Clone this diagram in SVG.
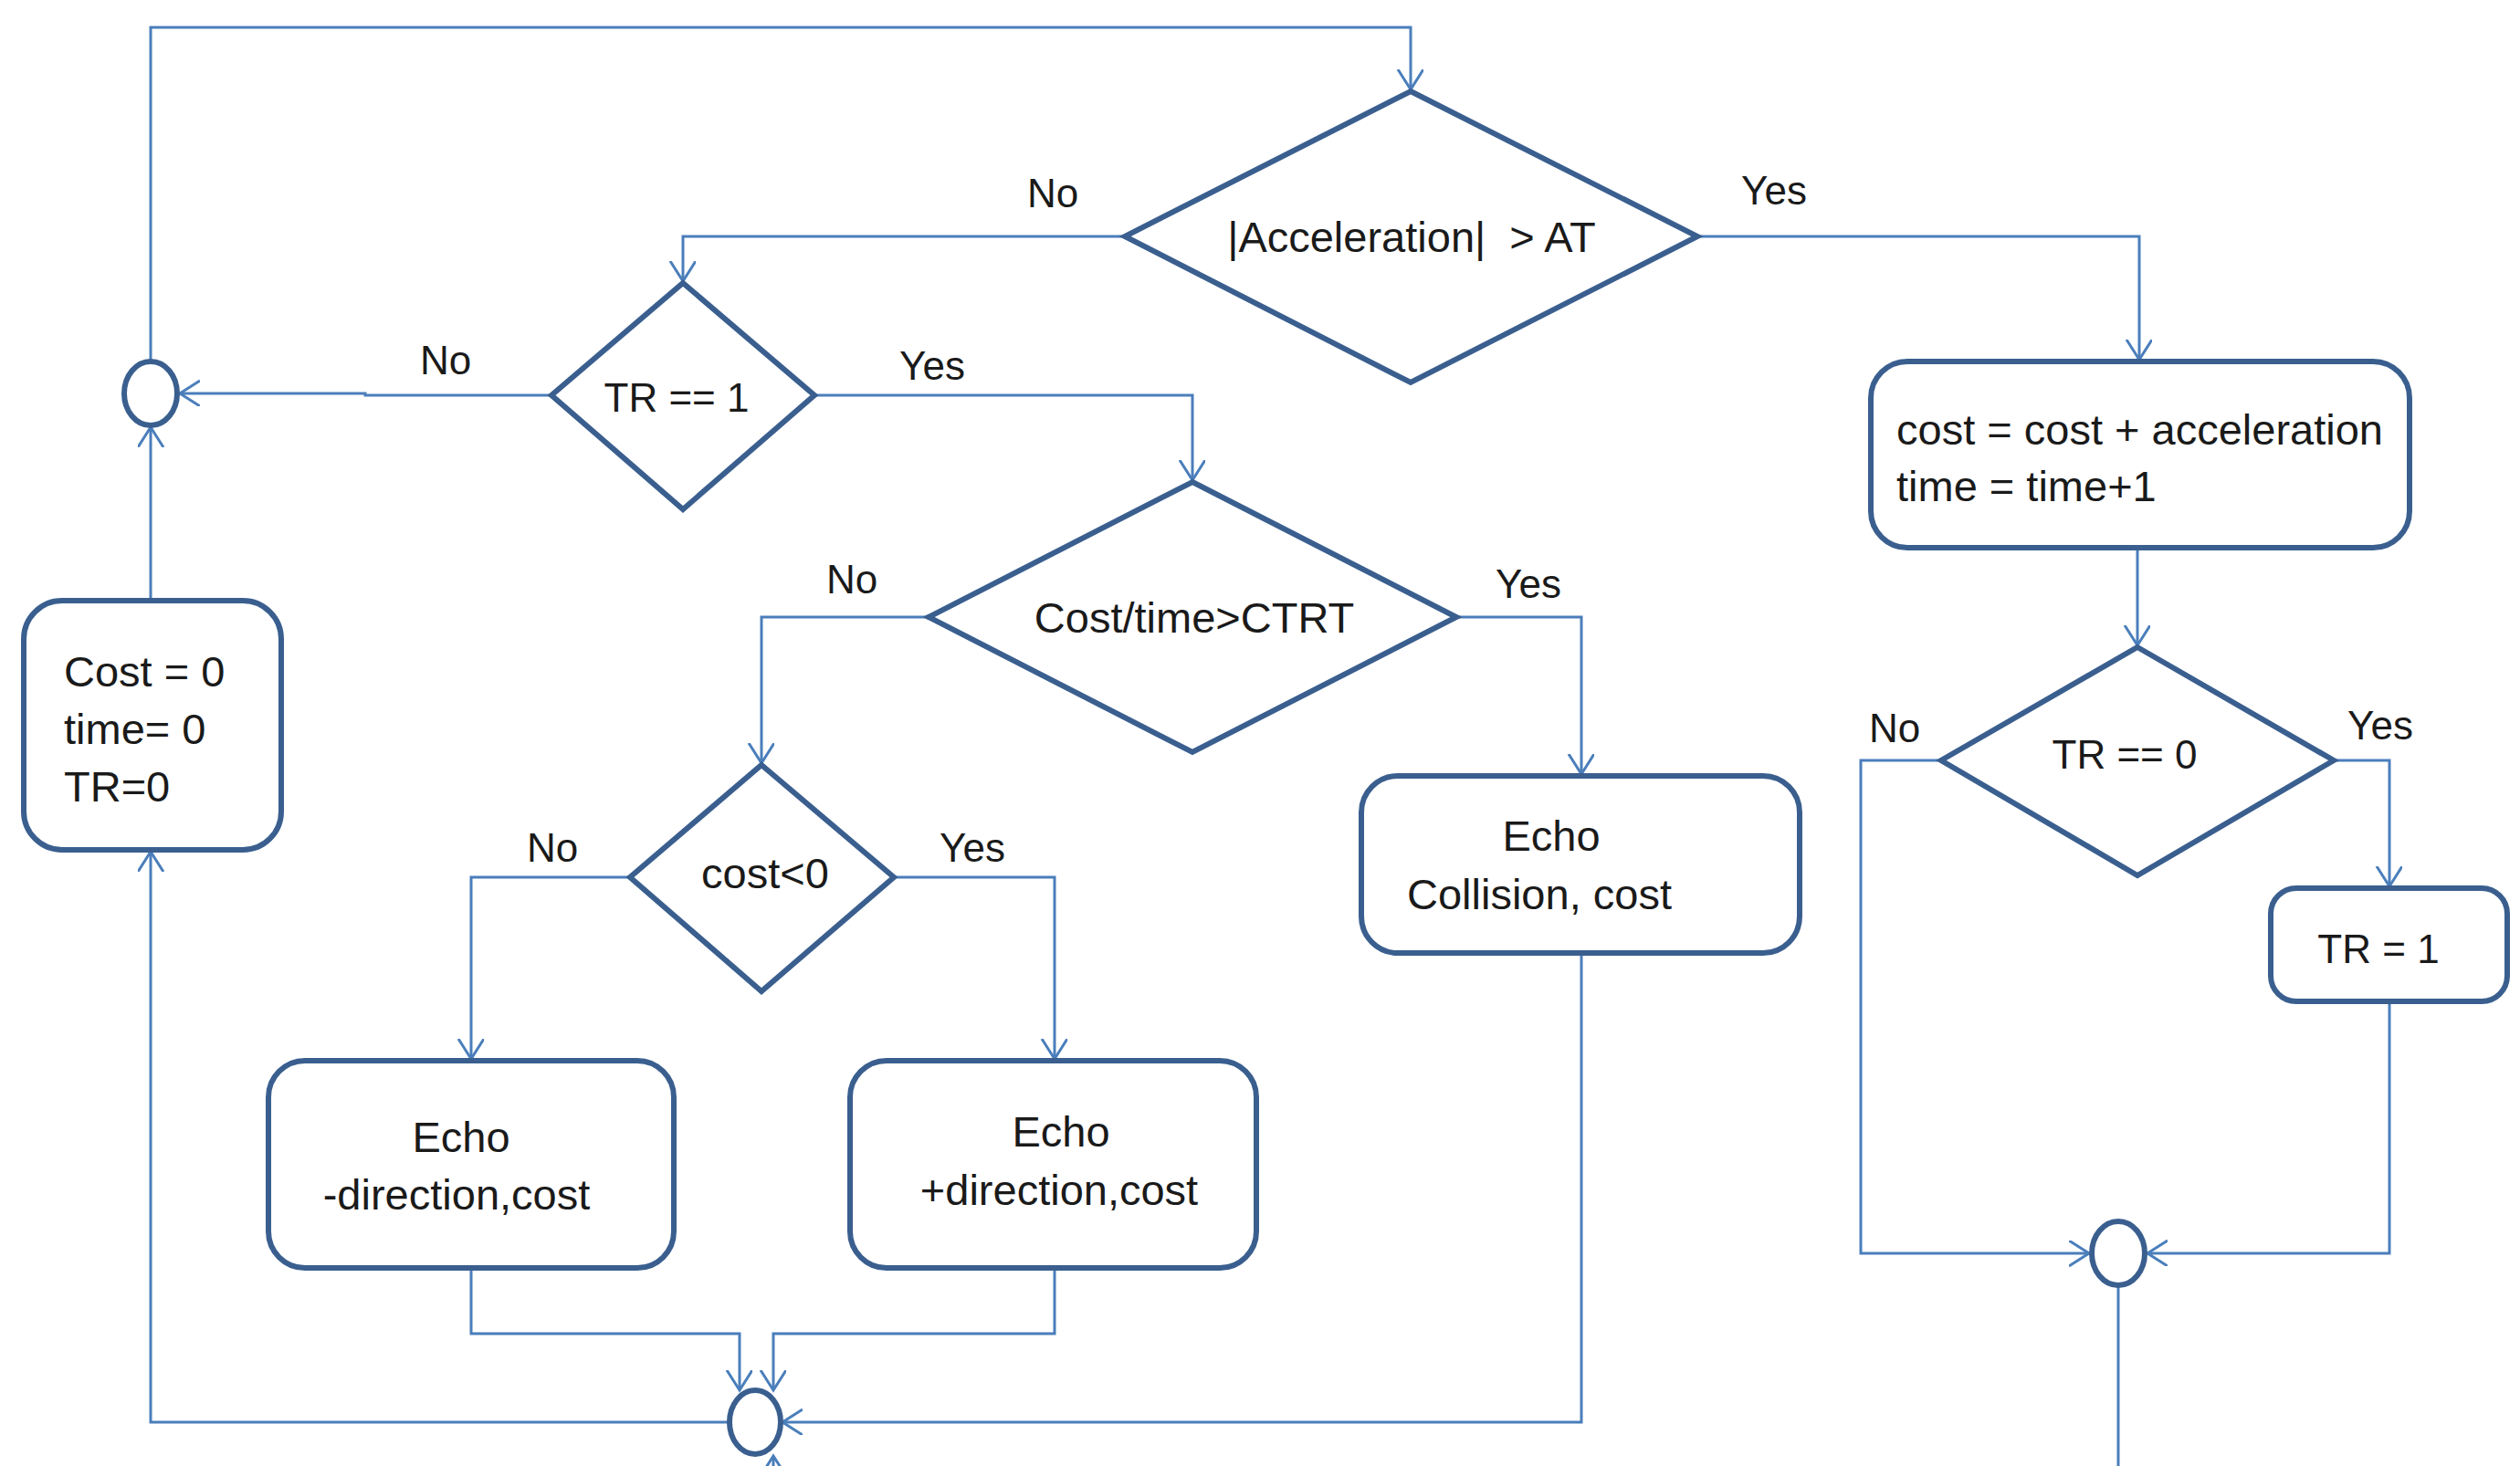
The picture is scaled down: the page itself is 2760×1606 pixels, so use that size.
<svg xmlns="http://www.w3.org/2000/svg" width="2760" height="1606" viewBox="0 0 2760 1606">
<defs>
<marker id="arr" markerUnits="userSpaceOnUse" markerWidth="26" markerHeight="30" refX="22" refY="14" orient="auto">
<path d="M0,0 L22,14 L0,28" fill="none" stroke="#4a7ebb" stroke-width="3"/>
</marker>
</defs>
<style>
.sh{fill:#fff;stroke:#3a5f8f;stroke-width:6}
.ln{fill:none;stroke:#4a7ebb;stroke-width:3}
.t{font-family:"Liberation Sans",Arial,sans-serif;font-size:47px;fill:#1a1a1a}
.s{font-size:44px}
.m{text-anchor:middle}
</style>
<rect width="2760" height="1606" fill="#fff"/>
<g id="connectors">
<path class="ln" d="M165,396 V30 H1545 V98" marker-end="url(#arr)"/>
<path class="ln" d="M1232,259 H748 V308" marker-end="url(#arr)"/>
<path class="ln" d="M604,433 H400 V431 H197" marker-end="url(#arr)"/>
<path class="ln" d="M165,658 V468" marker-end="url(#arr)"/>
<path class="ln" d="M892,433 H1306 V526" marker-end="url(#arr)"/>
<path class="ln" d="M1017,676 H834 V836" marker-end="url(#arr)"/>
<path class="ln" d="M690,961 H516 V1160" marker-end="url(#arr)"/>
<path class="ln" d="M979,961 H1155 V1160" marker-end="url(#arr)"/>
<path class="ln" d="M1595,676 H1732 V848" marker-end="url(#arr)"/>
<path class="ln" d="M1859,259 H2343 V394" marker-end="url(#arr)"/>
<path class="ln" d="M2341,600 V707" marker-end="url(#arr)"/>
<path class="ln" d="M2126,833 H2038 V1373 H2288" marker-end="url(#arr)"/>
<path class="ln" d="M2556,833 H2617 V971" marker-end="url(#arr)"/>
<path class="ln" d="M2617,1097 V1373 H2352" marker-end="url(#arr)"/>
<path class="ln" d="M2320,1408 V1606"/>
<path class="ln" d="M516,1389 V1461 H810 V1523" marker-end="url(#arr)"/>
<path class="ln" d="M1155,1389 V1461 H847 V1523" marker-end="url(#arr)"/>
<path class="ln" d="M1732,1044 V1558 H857" marker-end="url(#arr)"/>
<path class="ln" d="M799,1558 H165 V933" marker-end="url(#arr)"/>
<path class="ln" d="M847,1640 V1595" marker-end="url(#arr)"/>
</g>
<g id="accel">
<polygon class="sh" points="1545,100 1859,259 1545,419 1232,259"/>
<text class="t m" x="1546" y="276" font-size="48" xml:space="preserve">|Acceleration|  &gt; AT</text>
<text class="t s m" x="1153" y="227">No</text>
<text class="t s m" x="1943" y="224">Yes</text>
</g>
<g id="tr1">
<polygon class="sh" points="748,310 892,433 748,558 604,433"/>
<text class="t s m" x="741" y="451">TR == 1</text>
<text class="t s m" x="488" y="410">No</text>
<text class="t s m" x="1021" y="416">Yes</text>
</g>
<g id="joinLeft"><ellipse class="sh" cx="165" cy="431" rx="29" ry="35"/></g>
<g id="reset">
<rect class="sh" x="26" y="658" width="282" height="273" rx="42"/>
<text class="t" x="70" y="752">Cost = 0</text>
<text class="t" x="70" y="815">time= 0</text>
<text class="t" x="70" y="878">TR=0</text>
</g>
<g id="ctrt">
<polygon class="sh" points="1306,528 1595,676 1306,824 1017,676"/>
<text class="t m" x="1308" y="693">Cost/time&gt;CTRT</text>
<text class="t s m" x="933" y="650">No</text>
<text class="t s m" x="1674" y="655">Yes</text>
</g>
<g id="costneg">
<polygon class="sh" points="834,838 979,961 834,1086 690,961"/>
<text class="t m" x="838" y="973">cost&lt;0</text>
<text class="t s m" x="605" y="944">No</text>
<text class="t s m" x="1065" y="944">Yes</text>
</g>
<g id="echoMinus">
<rect class="sh" x="294" y="1162" width="444" height="227" rx="40"/>
<text class="t m" x="505" y="1262">Echo</text>
<text class="t m" x="500" y="1325">-direction,cost</text>
</g>
<g id="echoPlus">
<rect class="sh" x="931" y="1162" width="445" height="227" rx="40"/>
<text class="t m" x="1162" y="1256">Echo</text>
<text class="t m" x="1160" y="1320">+direction,cost</text>
</g>
<g id="echoCollision">
<rect class="sh" x="1491" y="850" width="480" height="194" rx="40"/>
<text class="t m" x="1699" y="932">Echo</text>
<text class="t m" x="1686" y="996">Collision, cost</text>
</g>
<g id="costUpdate">
<rect class="sh" x="2049" y="396" width="590" height="204" rx="40"/>
<text class="t" x="2077" y="487">cost = cost + acceleration</text>
<text class="t" x="2077" y="549">time = time+1</text>
</g>
<g id="tr0">
<polygon class="sh" points="2341,709 2556,833 2341,959 2126,833"/>
<text class="t s m" x="2327" y="842">TR == 0</text>
<text class="t s m" x="2075" y="813">No</text>
<text class="t s m" x="2607" y="810">Yes</text>
</g>
<g id="setTR">
<rect class="sh" x="2487" y="973" width="259" height="124" rx="28"/>
<text class="t s m" x="2605" y="1055">TR = 1</text>
</g>
<g id="joinRight"><ellipse class="sh" cx="2320" cy="1373" rx="29" ry="35"/></g>
<g id="joinBottom"><ellipse class="sh" cx="827" cy="1558" rx="28" ry="35"/></g>
</svg>
